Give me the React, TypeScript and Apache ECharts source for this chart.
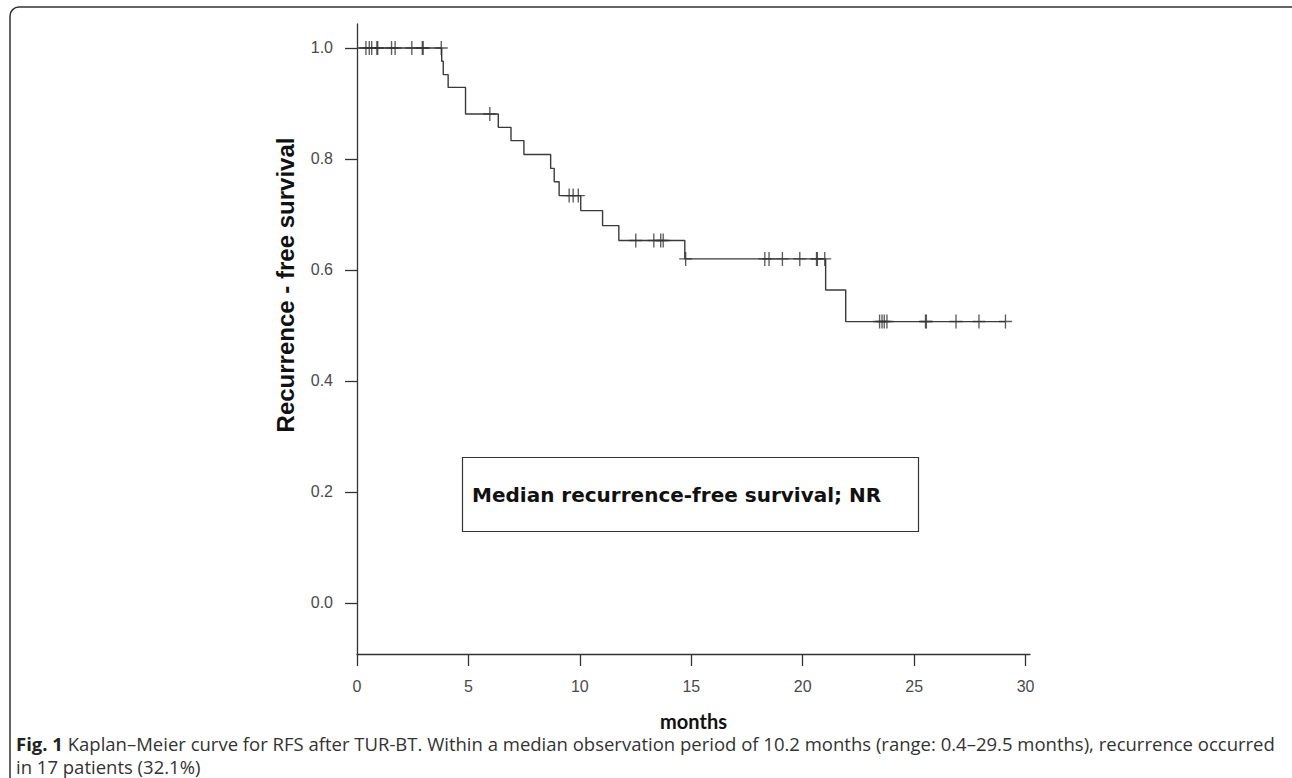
import React, { useEffect, useRef } from "react";
import * as echarts from "echarts";

// Kaplan–Meier step data (time in months, survival after the event)
const eventTimes = [0, 3.8, 3.87, 4.09, 4.87, 6.34, 6.91, 7.49, 8.69, 8.85, 9.07, 10.04, 11.02, 11.75, 14.71, 21.03, 21.93];
const survival = [1.0, 0.976, 0.952, 0.929, 0.881, 0.857, 0.833, 0.808, 0.783, 0.759, 0.734, 0.707, 0.68, 0.653, 0.62, 0.564, 0.507];
const lastFollowUp = 29.1;

// Censored observations (months)
const censorTimes = [
  0.4, 0.55, 0.66, 0.89, 0.93, 1.55, 1.71, 2.46, 2.93, 2.97, 3.78,
  5.96,
  9.52, 9.7, 9.93,
  12.51, 13.32, 13.63, 13.74,
  14.75, 18.3, 18.49, 19.09, 19.87, 20.62, 20.66, 20.99,
  23.45, 23.56, 23.66, 23.78, 25.51, 25.55, 26.88, 27.91, 29.1,
];

const xTicks = [0, 5, 10, 15, 20, 25, 30];
const yTicks = [0, 0.2, 0.4, 0.6, 0.8, 1.0];

const xLabel = "months";
const yLabel = "Recurrence - free survival";
const boxText = "Median recurrence-free survival; NR";
const captionLine1 =
  "Kaplan–Meier curve for RFS after TUR-BT. Within a median observation period of 10.2 months (range: 0.4–29.5 months), recurrence occurred";
const captionLine2 = "in 17 patients (32.1%)";

function survivalAt(t: number): number {
  let s = survival[0];
  for (let i = 0; i < eventTimes.length; i++) {
    if (eventTimes[i] <= t) s = survival[i];
  }
  return s;
}

export default function App() {
  const ref = useRef<HTMLDivElement>(null);
  useEffect(() => {
    if (!ref.current) return;
    const chart = echarts.init(ref.current, undefined, { renderer: "svg" });
    const kmData = eventTimes.map((t, i) => [t, survival[i]]);
    kmData.push([lastFollowUp, survival[survival.length - 1]]);
    const censorData = censorTimes.map((t) => [t, survivalAt(t)]);
    const axisColor = "#333";
    const labelStyle = {
      fontFamily: "Liberation Sans, Arial, sans-serif",
      fontSize: 16,
      color: "#4a4a4a",
    };
    const capFont = "Open Sans, sans-serif";
    const capSize = 18.5;
    chart.setOption({
      animation: false,
      backgroundColor: "#fff",
      grid: { left: 357, right: 262, top: 24, bottom: 124, containLabel: false },
      xAxis: {
        type: "value",
        min: 0,
        max: 30.2,
        axisLine: { show: true, onZero: false, lineStyle: { color: axisColor, width: 1.3 } },
        axisTick: { show: true, length: 12, customValues: xTicks, lineStyle: { color: axisColor, width: 1.3 } },
        axisLabel: { customValues: xTicks, margin: 24, ...labelStyle },
        splitLine: { show: false },
        name: xLabel,
        nameLocation: "middle",
        nameGap: 58,
        nameTextStyle: { fontFamily: "Lato, sans-serif", fontWeight: "bold", fontSize: 20, lineHeight: 18, color: "#111" },
      },
      yAxis: {
        type: "value",
        min: -0.0919,
        max: 1.0432,
        axisLine: { show: true, onZero: false, lineStyle: { color: axisColor, width: 1.3 } },
        axisTick: { show: true, length: 12, customValues: yTicks, lineStyle: { color: axisColor, width: 1.3 } },
        axisLabel: {
          customValues: yTicks,
          margin: 24,
          formatter: (v: number) => v.toFixed(1),
          ...labelStyle,
        },
        splitLine: { show: false },
      },
      series: [
        {
          type: "line",
          step: "end",
          data: kmData,
          symbol: "none",
          lineStyle: { color: "#3a3a3a", width: 1.4 },
          z: 2,
        },
        {
          type: "scatter",
          data: censorData,
          symbol: "path://M5 0L5 10M0 5L10 5",
          symbolSize: [13, 14],
          itemStyle: { color: "rgba(0,0,0,0)", borderColor: "#333", borderWidth: 1.4 },
          z: 3,
        },
      ],
      graphic: [
        {
          type: "rect",
          shape: { x: 10, y: 7, width: 1290, height: 800, r: 9 },
          style: { fill: "none", stroke: "#333", lineWidth: 1.5 },
          silent: true,
        },
        {
          type: "text",
          x: 285,
          y: 285,
          rotation: Math.PI / 2,
          style: {
            text: yLabel,
            fontFamily: "Liberation Sans, Arial, sans-serif",
            fontWeight: "bold",
            fontSize: 24,
            fill: "#111",
            align: "center",
            verticalAlign: "middle",
          },
        },
        {
          type: "rect",
          shape: { x: 462.5, y: 457.5, width: 456, height: 74 },
          style: { fill: "#fff", stroke: "#333", lineWidth: 1.2 },
        },
        {
          type: "text",
          x: 472,
          y: 495,
          style: {
            text: boxText,
            fontFamily: "DejaVu Sans, sans-serif",
            fontWeight: "bold",
            fontSize: 20,
            fill: "#111",
            align: "left",
            verticalAlign: "middle",
          },
        },
        {
          type: "text",
          x: 16,
          y: 743,
          style: {
            text: "{b|Fig. 1} " + captionLine1,
            rich: {
              b: { fontFamily: capFont, fontWeight: "bold", fontSize: capSize, lineHeight: 18, fill: "#222" },
            },
            fontFamily: capFont,
            fontSize: capSize,
            lineHeight: 18,
            fill: "#333",
            align: "left",
            verticalAlign: "middle",
          },
        },
        {
          type: "text",
          x: 16,
          y: 766,
          style: {
            text: captionLine2,
            fontFamily: capFont,
            fontSize: capSize,
            lineHeight: 18,
            fill: "#333",
            align: "left",
            verticalAlign: "middle",
          },
        },
      ],
    });
    return () => chart.dispose();
  }, []);
  return (
    <div
      ref={ref}
      style={{ position: "fixed", left: 0, top: 0, width: 1292, height: 778, background: "#fff" }}
    />
  );
}
